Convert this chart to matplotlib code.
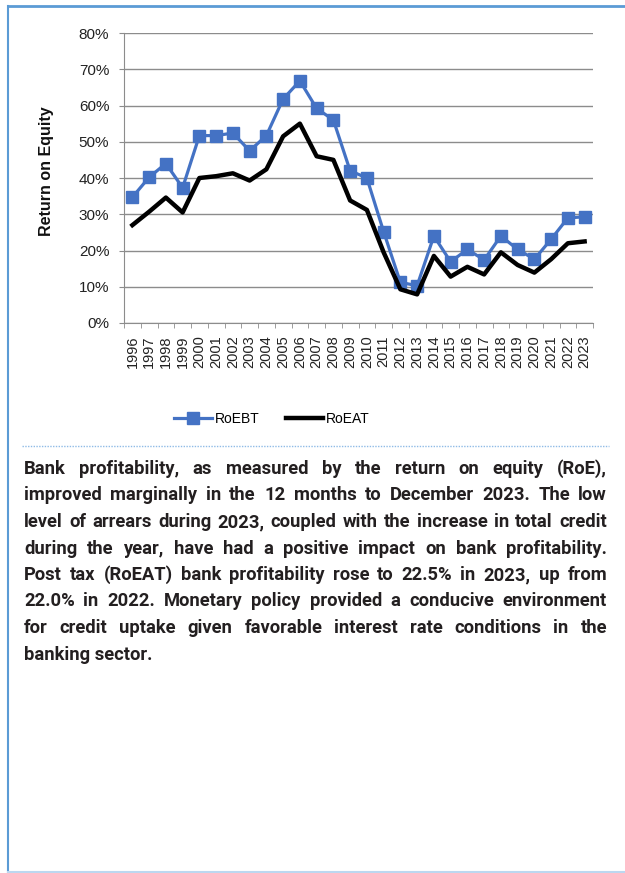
import numpy as np
import matplotlib.pyplot as plt
from matplotlib.lines import Line2D
from matplotlib.ticker import PercentFormatter

years = [str(y) for y in range(1996, 2024)]
roebt = [34.7, 40.2, 44.0, 37.3, 51.7, 51.7, 52.4, 47.5, 51.7, 61.8, 66.8, 59.2, 56.0,
         42.0, 40.0, 25.2, 11.2, 10.3, 24.0, 16.9, 20.3, 17.4, 24.0, 20.3, 17.6, 23.1, 29.0, 29.3]
roeat = [27.0, 30.7, 34.6, 30.5, 40.0, 40.5, 41.3, 39.3, 42.4, 51.5, 55.0, 46.0, 45.0,
         33.8, 31.2, 19.5, 9.3, 7.9, 18.5, 12.8, 15.5, 13.4, 19.5, 16.0, 13.9, 17.6, 22.0, 22.5]

paragraph = [
    "Bank profitability, as measured by the return on equity (RoE),",
    "improved marginally in the 12 months to December 2023. The low",
    "level of arrears during 2023, coupled with the increase in total credit",
    "during the year, have had a positive impact on bank profitability.",
    "Post tax (RoEAT) bank profitability rose to 22.5% in 2023, up from",
    "22.0% in 2022. Monetary policy provided a conducive environment",
    "for credit uptake given favorable interest rate conditions in the",
    "banking sector.",
]

W, H = 625, 873
blue = "#4472c4"
frame = "#5b9bd5"
grid = "#8c8c8c"
txt = "#231f20"

plt.rcParams['font.family'] = ['Liberation Sans', 'DejaVu Sans']

fig = plt.figure(figsize=(W / 100, H / 100), dpi=100)
ax = fig.add_axes([124 / W, 1 - 323 / H, (593 - 124) / W, (323 - 33) / H])

x = np.arange(len(years))
ax.plot(x, roebt, color=blue, lw=2.3, marker="s", ms=8.5, label="RoEBT", zorder=3)
ax.plot(x, roeat, color="black", lw=3.2, label="RoEAT", zorder=4)

ax.set_xlim(-0.5, len(years) - 0.5)
ax.set_ylim(0, 80)
ax.set_yticks(np.arange(0, 81, 10))
ax.yaxis.set_major_formatter(PercentFormatter(decimals=0))
ax.grid(axis="y", color=grid, lw=1)
ax.set_axisbelow(True)
for s in ["top", "right"]:
    ax.spines[s].set_visible(False)
ax.spines["left"].set_color(grid)
ax.spines["bottom"].set_color(grid)
ax.tick_params(axis="y", length=3.6, color=grid, labelsize=11, pad=7, labelcolor="#222222")

ax.set_xticks(x)
ax.set_xticklabels(years, rotation=90, fontsize=10.5, color="#222222")
ax.set_xticks(np.arange(-0.5, len(years)), minor=True)
ax.tick_params(axis="x", which="major", length=0, pad=9)
ax.tick_params(axis="x", which="minor", length=3.6, color=grid)

fig.text(47 / W, 1 - 171 / H, "Return on Equity", rotation=90, fontsize=11.5,
         fontweight="bold", ha="center", va="center", color="#111111")

handles = [Line2D([], [], color=blue, lw=2.3, marker="s", ms=8.5),
           Line2D([], [], color="black", lw=3.2)]
fig.legend(handles, ["RoEBT", "RoEAT"], loc="center", bbox_to_anchor=(272 / W, 1 - 419 / H),
           ncol=2, frameon=False, fontsize=10, handlelength=2.7, columnspacing=1.9,
           handletextpad=0.2)

# frame around the panel
fig.add_artist(Line2D([8 / W, 8 / W], [1 - 6 / H, 0], color=frame, lw=1.5))
fig.add_artist(Line2D([8 / W, 1], [1 - 6 / H, 1 - 6 / H], color=frame, lw=2))
fig.add_artist(Line2D([8 / W, 1], [1 - 872 / H, 1 - 872 / H], color="#bcd7f0", lw=1.5))
fig.add_artist(Line2D([22 / W, 609 / W], [1 - 446 / H, 1 - 446 / H], color="#8fbbe6",
                      lw=1, ls=(0, (1, 1))))

# justified paragraph
renderer = fig.canvas.get_renderer()
style = dict(fontsize=13.2, fontweight="bold", family=['Roboto', 'DejaVu Sans'],
             color=txt, va="baseline", ha="left")
left, right = 24, 607
for i, line in enumerate(paragraph):
    yy = 1 - (474 + i * 26.5) / H
    words = line.split()
    if i == len(paragraph) - 1:
        fig.text(left / W, yy, line, **style)
        continue
    arts = [fig.text(0, yy, w, **style) for w in words]
    widths = [a.get_window_extent(renderer).width for a in arts]
    gap = (right - left - sum(widths)) / (len(words) - 1)
    pos = left
    for a, wd in zip(arts, widths):
        a.set_x(pos / W)
        pos += wd + gap

fig.savefig("out.png", dpi=100, facecolor="white")
